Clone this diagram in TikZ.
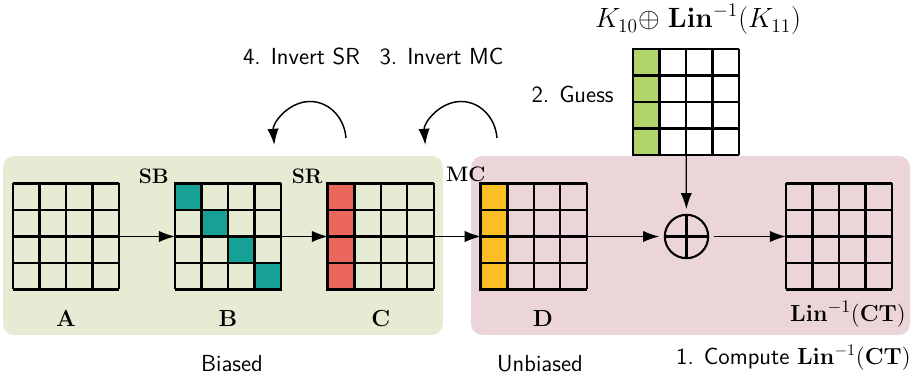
\documentclass[tikz,border=0pt]{standalone}
\usepackage{amsmath}
\usetikzlibrary{arrows.meta,calc,positioning}

\definecolor{biasbg}{RGB}{230,235,211}
\definecolor{unbiasbg}{RGB}{235,213,216}
\definecolor{sbteal}{RGB}{22,160,150}
\definecolor{srred}{RGB}{235,103,92}
\definecolor{mcyellow}{RGB}{251,190,36}
\definecolor{keygreen}{RGB}{176,212,106}

% 4x4 state grid on a node
\newcommand{\statecells}[1]{%
  \draw[cellline, shift={(#1.south west)}] (0,0) grid[step=16.43pt] (65.8pt,65.8pt);}
% one highlighted cell: node, colour, column, row
\newcommand{\hicell}[4]{%
  \filldraw[fill=#2, hiline] ($(#1.north west)+(#3*16.43pt,-#4*16.43pt)$) rectangle +(16.43pt,-16.43pt);}

\begin{document}
\begin{tikzpicture}[
    x=0.62pt, y=0.62pt,
    state/.style={minimum size=65.72pt, inner sep=0pt, outer sep=0pt},
    cellline/.style={line width=1.3pt},
    hiline/.style={line width=1.8pt},
    arr/.style={-{Latex[length=10pt,width=7pt]}, line width=0.8pt},
    curl/.style={-{Latex[length=10pt,width=7pt]}, line width=0.9pt},
    opname/.style={font=\fontsize{13}{15}\selectfont\bfseries, inner sep=0pt},
    statelbl/.style={font=\Large\bfseries, inner sep=0pt},
    note/.style={font=\Large\sffamily, inner sep=0pt},
    xorop/.style={circle, draw, line width=1.3pt, minimum size=26.9pt,
        inner sep=0pt, outer sep=3.5pt}
]
\useasboundingbox (0,0) rectangle (913,379);

\fill[biasbg, rounded corners=7pt] (3,44) rectangle (443,223);
\fill[unbiasbg, rounded corners=7pt] (471,44) rectangle (910,223);

\node[state] (A) at (66,142.5) {};
\node[state, right=34.7pt of A] (B) {};
\node[state, right=29.1pt of B] (C) {};
\node[state, right=29.1pt of C] (D) {};
\node[xorop] (xor) at (686.5,142.5) {};
\node[state] (CT) at (839,142.5) {};
\node[state, fill=white] (K) at (686,277) {};

\statecells{A}
\statecells{B}
\statecells{C}
\statecells{D}
\statecells{CT}
\statecells{K}

\foreach \r in {0,...,3} {
  \hicell{B}{sbteal}{\r}{\r}
  \hicell{C}{srred}{0}{\r}
  \hicell{D}{mcyellow}{0}{\r}
  \hicell{K}{keygreen}{0}{\r}
}

\draw[line width=1.3pt] (xor.center) +(0,12.6pt) -- +(0,-12.6pt)
    +(-12.6pt,0) -- +(12.6pt,0);

\draw[arr] (A) -- (B);
\draw[arr] (B) -- (C);
\draw[arr] (C) -- (D);
\draw[arr] (D) -- (xor);
\draw[arr] (xor) -- (CT);
\draw[arr] (K) -- (xor);

\node[opname, anchor=base east] (sb) at ($(B.north west)+(-6,0)$) {SB};
\node[opname, anchor=base east] (sr) at ($(C.north west)+(-5,0)$) {SR};
\node[opname, anchor=base east] (mc) at ($(D.north west)+(5,2)$) {MC};

\node[statelbl, anchor=base] (la) at ($(A.south)+(0,-37)$) {A};
\node[statelbl, anchor=base] (lb) at ($(B.south)+(0,-37)$) {B};
\node[statelbl, anchor=base] (lc) at ($(C.south)+(0,-37)$) {C};
\node[statelbl, anchor=base] (ld) at ($(D.south)+(9,-37)$) {D};
\node[font=\fontsize{15.5}{18}\selectfont, inner sep=0pt, anchor=base east] (lct)
    at ($(CT.south east)+(14,-32)$) {$\mathbf{Lin}^{-1}\mathbf{(CT)}$};
\node[font=\fontsize{17}{20}\selectfont, inner sep=0pt, anchor=base] (lk)
    at ($(K.north)+(12,21)$) {$K_{10}{\oplus}\ \mathbf{Lin}^{-1}(K_{11})$};

\coordinate (srturn) at (346,241);
\coordinate (mcturn) at (497,241);
\draw[curl] (srturn) arc[start angle=5, end angle=185, x radius=36, y radius=40];
\draw[curl] (mcturn) arc[start angle=5, end angle=185, x radius=36, y radius=40];

\node[note, anchor=base] (invsr) at (301.5,314) {4. Invert SR};
\node[note, anchor=base] (invmc) at (441.5,314) {3. Invert MC};
\node[note, anchor=base east] (guess) at ($(K.west)+(-19,-1)$) {2. Guess};
\node[note, anchor=base] (biased) at (232,8) {Biased};
\node[note, anchor=base] (unbiased) at (540,8) {Unbiased};
\node[note, anchor=base east] (compute) at (911,14) {1. Compute $\mathbf{Lin}^{-1}\mathbf{(CT)}$};
\end{tikzpicture}
\end{document}
